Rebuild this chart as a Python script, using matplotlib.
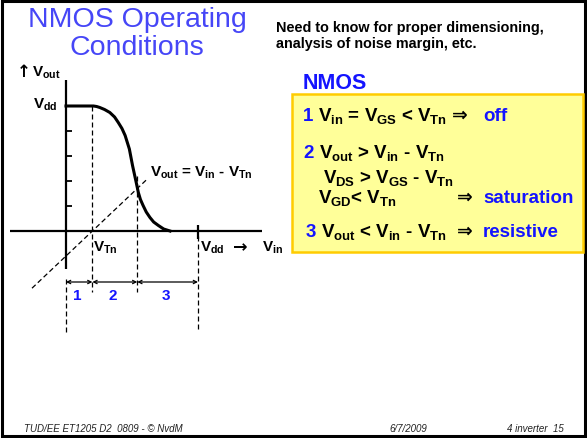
import matplotlib
matplotlib.use('Agg')
import numpy as np
import matplotlib.pyplot as plt
import matplotlib.transforms as mtransforms
from matplotlib.patches import Rectangle

plt.rcParams['mathtext.fontset'] = 'custom'
plt.rcParams['mathtext.rm'] = 'Liberation Sans:bold'
plt.rcParams['mathtext.it'] = 'Liberation Sans:bold'
plt.rcParams['mathtext.bf'] = 'Liberation Sans:bold'
plt.rcParams['font.family'] = ['Liberation Sans', 'DejaVu Sans']

# ---- data ----
VDD = 2.5
VTN = 0.5
VM = 1.35
vin = [0.0, 0.45, 0.52, 0.58, 0.64, 0.73, 0.83, 0.92, 0.99, 1.06, 1.12, 1.20, 1.26, 1.33,
       1.37, 1.41, 1.46, 1.52, 1.59, 1.66, 1.75, 1.85, 1.97]
vout = [2.5, 2.5, 2.5, 2.49, 2.47, 2.43, 2.37, 2.28, 2.17, 2.05, 1.91, 1.64, 1.31, 0.97,
        0.77, 0.63, 0.51, 0.38, 0.27, 0.18, 0.11, 0.04, 0.0]
ytick_vals = [0.5, 1.0, 1.5, 2.0]
region_bounds = [0.0, VTN, VM, VDD]
region_labels = ['1', '2', '3']

W, H = 587, 439
fig = plt.figure(figsize=(W / 100, H / 100), dpi=100)
ax = fig.add_axes([0, 0, 1, 1])
ax.set_axis_off()

# pixel layout of the plot area: origin at (66,232), (VDD,VDD) at (198,107)
X0, X1, Y0, Y1 = 66, 198, 232, 107
sx = (X1 - X0) / VDD
sy = (Y0 - Y1) / VDD
ax.set_xlim(-X0 / sx, (W - X0) / sx)
ax.set_ylim(-(H - Y0) / sy, Y0 / sy)

def dx(px):
    return (px - X0) / sx

def dy(py):
    return (Y0 - py) / sy

pix = mtransforms.Affine2D().scale(1 / W, -1 / H).translate(0, 1) + fig.transFigure

BLUE = '#1414ff'
TBLUE = '#4646f7'

# slide border
fig.patches.append(Rectangle((1.5, 1.5), W - 3.5, H - 3.5, transform=pix,
                             fill=False, edgecolor='black', lw=2.2))

# title
for s, yb in [('NMOS Operating', 27), ('Conditions', 55)]:
    fig.text(137, yb, s, transform=pix, ha='center', va='baseline',
             fontsize=20.5, color=TBLUE, family='Liberation Sans')

# header
fig.text(276, 32, 'Need to know for proper dimensioning,', transform=pix,
         va='baseline', fontsize=10.4, weight='bold')
fig.text(276, 48, 'analysis of noise margin, etc.', transform=pix,
         va='baseline', fontsize=10.4, weight='bold')
fig.text(303, 89, 'NMOS', transform=pix, va='baseline', fontsize=15.5,
         weight='bold', color=BLUE)

# yellow box
fig.patches.append(Rectangle((292, 95), 291, 158, transform=pix,
                             facecolor='#ffff99', edgecolor='#ffcc00', lw=1.8))

def t(x, y, s, color='black', size=13.5, ha='left', family=None):
    kw = {}
    if family:
        kw['family'] = family
    fig.text(x, y, s, transform=pix, va='baseline', ha=ha, fontsize=size,
             weight='bold', color=color, **kw)

t(303, 121, '1', BLUE)
t(318, 121, '$V_{in}$ = $V_{GS}$ < $V_{Tn}$')
t(452, 121, '\u21d2')
t(483, 121, 'off', BLUE)
t(303, 158, '2', BLUE)
t(319, 158, '$V_{out}$ > $V_{in}$ - $V_{Tn}$')
t(323, 183, '$V_{DS}$ > $V_{GS}$ - $V_{Tn}$')
t(318, 203, '$V_{GD}$< $V_{Tn}$')
t(457, 203, '\u21d2')
t(483, 203, 'saturation', BLUE)
t(306, 237, '3', BLUE)
t(321, 237, '$V_{out}$ < $V_{in}$ - $V_{Tn}$')
t(457, 237, '\u21d2')
t(483, 237, 'resistive', BLUE)

# ---- chart ----
ax.plot([0, 0], [dy(81), dy(270)], color='black', lw=1.6, solid_capstyle='butt')
ax.plot([dx(10), dx(262)], [0, 0], color='black', lw=1.6, solid_capstyle='butt')
for v in ytick_vals:
    ax.plot([0, dx(72)], [v, v], color='black', lw=1.3, solid_capstyle='butt')
ax.plot([VDD, VDD], [dy(226), dy(240)], color='black', lw=1.6, solid_capstyle='butt')

ax.plot(vin, vout, color='black', lw=2.2, solid_joinstyle='round')

dash = (0, (4, 2.4))
dkw = dict(color='black', lw=0.9, linestyle=dash)
ax.plot([VTN, VTN], [VDD, dy(293)], **dkw)
ax.plot([VM, VM], [dy(177), dy(293)], **dkw)
ax.plot([0, 0], [dy(280), dy(333)], **dkw)
ax.plot([VDD, VDD], [dy(237), dy(333)], **dkw)
dxl = np.array([dx(32), dx(147)])
ax.plot(dxl, dxl - VTN, **dkw)

ya = dy(283)
for a, b, lab in zip(region_bounds[:-1], region_bounds[1:], region_labels):
    ax.annotate('', xy=(a, ya), xytext=(b, ya),
                arrowprops=dict(arrowstyle='<->', lw=0.9, shrinkA=0, shrinkB=0,
                                mutation_scale=6, color='black'))
    ax.text((a + b) / 2 - 0.04, dy(300), lab, ha='center', va='baseline',
            fontsize=11, weight='bold', color=BLUE)

t(17, 77, '\u2191', size=12, family='DejaVu Sans')
t(32, 77, '$V_{out}$', size=11)
t(33, 109, '$V_{dd}$', size=11)
t(93, 252, '$V_{Tn}$', size=11)
t(200, 252, '$V_{dd}$', size=11)
t(233, 252, '\u2192', size=12.5, family='DejaVu Sans')
t(262, 252, '$V_{in}$', size=11)
t(150, 177, '$V_{out}$ = $V_{in}$ - $V_{Tn}$', size=11)

# footer
for x, s in [(24, 'TUD/EE ET1205 D2  0809 - \u00a9 NvdM'), (389, '6/7/2009'),
             (507, '4 inverter  15')]:
    fig.text(x, 432, s, transform=pix, va='baseline', fontsize=7,
             style='italic', color='#222222')

fig.savefig('out.png', dpi=100)
